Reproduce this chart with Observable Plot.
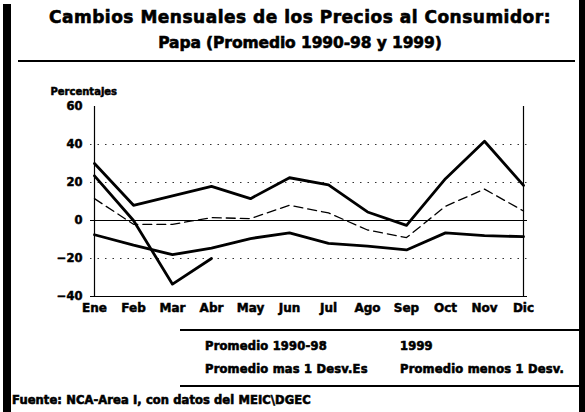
<!DOCTYPE html>
<html>
<head>
<meta charset="utf-8">
<script src="https://cdn.jsdelivr.net/npm/d3@7"></script>
<script src="https://cdn.jsdelivr.net/npm/@observablehq/plot@0.6"></script>
<style>
  html, body { margin: 0; padding: 0; background: #fff; }
  #page { position: relative; width: 585px; height: 412px; overflow: hidden; background: #fff;
          font-family: "DejaVu Sans", sans-serif; font-weight: bold; color: #000; }
  .abs { position: absolute; white-space: nowrap; -webkit-text-stroke: 0.6px #000; }
  .bar { position: absolute; background: #000; }
  .title { left: 0; width: 600px; text-align: center; }
  .leg { font-size: 11.5px; letter-spacing: 0.2px; }
  #chart { position: absolute; left: 0; top: 80px; }
  #chart svg text { stroke: #000; stroke-width: 0.5px; }
</style>
</head>
<body>
<div id="page">
  <div class="bar" style="left:3px; top:4px; width:8px; height:408px;"></div>
  <div class="bar" style="left:579px; top:0px; width:6px; height:412px;"></div>
  <div class="abs title" style="top:7px; font-size:17px; letter-spacing:0.5px;">Cambios Mensuales de los Precios al Consumidor:</div>
  <div class="abs title" style="top:34px; font-size:15.5px; letter-spacing:-0.1px;">Papa (Promedio 1990-98 y 1999)</div>
  <div class="bar" style="left:18px; top:60px; width:557px; height:1.5px;"></div>
  <div id="chart"></div>
  <div class="bar" style="left:180px; top:329px; width:399px; height:1.5px;"></div>
  <div class="abs leg" style="left:205px; top:339px;">Promedio 1990-98</div>
  <div class="abs leg" style="left:400px; top:339px;">1999</div>
  <div class="abs leg" style="left:205px; top:362px;">Promedio mas 1 Desv.Es</div>
  <div class="abs leg" style="left:400px; top:362px;">Promedio menos 1 Desv.</div>
  <div class="bar" style="left:180px; top:385px; width:399px; height:1.5px;"></div>
  <div class="abs leg" style="left:12px; top:393px; font-size:11.5px; letter-spacing:0.1px;">Fuente: NCA-Area I, con datos del MEIC\DGEC</div>
</div>
<script>
const months = ["Ene","Feb","Mar","Abr","May","Jun","Jul","Ago","Sep","Oct","Nov","Dic"];
const yTicks = [-40, -20, 0, 20, 40, 60];
const gridVals = [40, 20, -20];
const promedio = [11.5, -2, -2, 1.5, 1, 8, 4, -5, -9, 7.5, 16.5, 5];
const promMas = [30, 8, 13, 18, 11.5, 22.5, 18.8, 4.5, -2.6, 22, 41.7, 18.5];
const promMenos = [-7.5, -13, -18, -14.5, -9.5, -6.5, -12, -13.5, -15.5, -6.5, -8, -8.5];
const anio1999 = [23.5, 0, -33.5, -20];

const rows = (vals) => vals.map((v, i) => ({mes: months[i], v}));

const chart = Plot.plot({
  width: 585,
  height: 240,
  marginLeft: 90,
  marginRight: 58,
  marginTop: 26,
  marginBottom: 24,
  style: {fontFamily: "DejaVu Sans, sans-serif", fontWeight: "bold", color: "#000", background: "transparent"},
  x: {type: "point", domain: months, padding: 0, label: null},
  y: {domain: [-40, 60], label: null},
  marks: [
    Plot.ruleY(gridVals, {stroke: "#333", strokeWidth: 1, strokeDasharray: "1.5,6"}),
    Plot.ruleY([0], {stroke: "#000", strokeWidth: 1.2}),
    Plot.ruleY([-40], {stroke: "#000", strokeWidth: 1.2}),
    Plot.ruleX([months[0], months[months.length - 1]], {y1: -40, y2: 60, stroke: "#000", strokeWidth: 1.2}),
    Plot.line(rows(promedio), {x: "mes", y: "v", stroke: "#000", strokeWidth: 1.3, strokeDasharray: "9,5"}),
    Plot.line(rows(promMas), {x: "mes", y: "v", stroke: "#000", strokeWidth: 2.8}),
    Plot.line(rows(promMenos), {x: "mes", y: "v", stroke: "#000", strokeWidth: 2.8}),
    Plot.line(rows(anio1999), {x: "mes", y: "v", stroke: "#000", strokeWidth: 2.8}),
    Plot.axisY({ticks: yTicks, tickSize: 0, tickPadding: 8, fontSize: 11.5, fontWeight: "bold", label: null}),
    Plot.axisX({tickSize: 0, tickPadding: 7, fontSize: 12, fontWeight: "bold", label: null}),
    Plot.text(["Percentajes"], {frameAnchor: "top-left", dx: -40, dy: -19, fontSize: 10, fontWeight: "bold", textAnchor: "start"})
  ]
});
document.getElementById("chart").appendChild(chart);
</script>
</body>
</html>
